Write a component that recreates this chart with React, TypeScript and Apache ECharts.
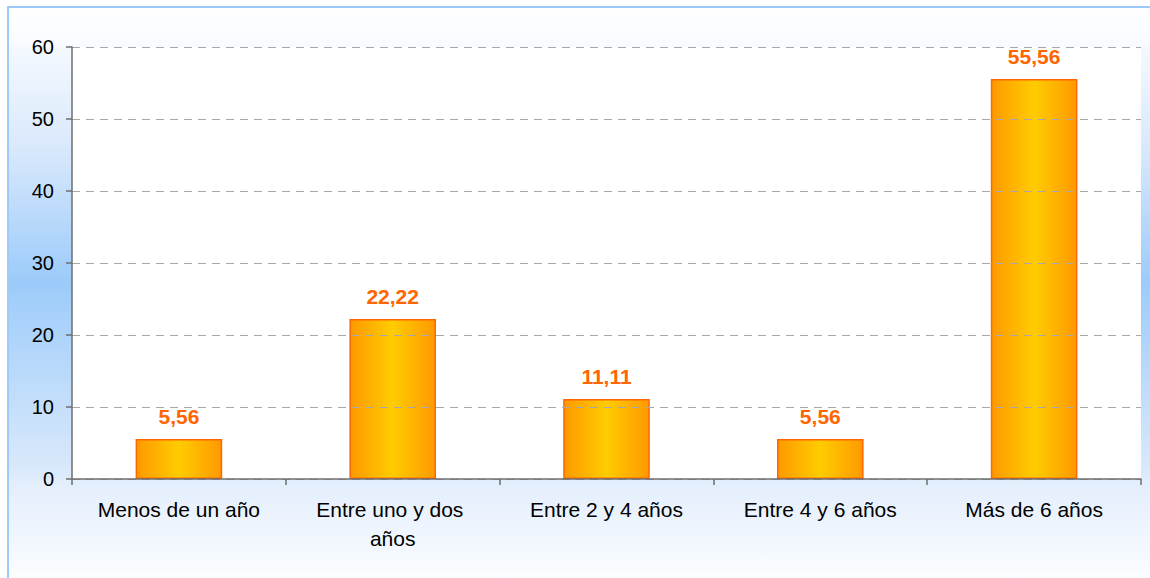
import React, { useEffect, useRef } from "react";
import * as echarts from "echarts";

const categories = [
  "Menos de un año",
  "Entre uno y dos años",
  "Entre 2 y 4 años",
  "Entre 4 y 6 años",
  "Más de 6 años",
];
const values = [5.56, 22.22, 11.11, 5.56, 55.56];
const yMin = 0;
const yMax = 60;
const yInterval = 10;

const FONT = "'Liberation Sans', Arial, sans-serif";

export default function App() {
  const ref = useRef<HTMLDivElement>(null);

  useEffect(() => {
    if (!ref.current) return;
    const chart = echarts.init(ref.current, undefined, { renderer: "svg" });
    const W = 1141;
    const H = 570;
    const gridLeft = 63;
    const gridRight = 9;
    const gridTop = 39;
    const gridBottom = 99;
    chart.setOption({
      animation: false,
      backgroundColor: {
        type: "linear",
        x: 0,
        y: 0,
        x2: 0,
        y2: 1,
        colorStops: [
          { offset: 0, color: "#ffffff" },
          { offset: 0.25, color: "#d8e8fc" },
          { offset: 0.48, color: "#9ccbfa" },
          { offset: 0.78, color: "#d4e6fb" },
          { offset: 1, color: "#ffffff" },
        ],
      },
      graphic: [
        {
          type: "rect",
          z: -10,
          silent: true,
          shape: { x: 0, y: 0, width: W, height: gridTop },
          style: {
            fill: {
              type: "linear",
              x: 0,
              y: 0,
              x2: 0,
              y2: 1,
              colorStops: [
                { offset: 0, color: "#ffffff" },
                { offset: 1, color: "#f7faff" },
              ],
            },
          },
        },
        {
          type: "rect",
          z: -10,
          silent: true,
          shape: { x: 0, y: H - gridBottom, width: W, height: gridBottom },
          style: {
            fill: {
              type: "linear",
              x: 0,
              y: 0,
              x2: 0,
              y2: 1,
              colorStops: [
                { offset: 0, color: "#e2edfc" },
                { offset: 1, color: "#fbfdff" },
              ],
            },
          },
        },
      ],
      grid: {
        left: gridLeft,
        right: gridRight,
        top: gridTop,
        bottom: gridBottom,
        show: true,
        backgroundColor: "#ffffff",
        borderWidth: 0,
        containLabel: false,
      },
      xAxis: {
        type: "category",
        data: categories,
        z: 5,
        axisLine: { show: true, lineStyle: { color: "#6e6e6e", width: 1.5 } },
        axisTick: { show: true, length: 6, lineStyle: { color: "#6e6e6e", width: 1.5 } },
        axisLabel: {
          color: "#000000",
          fontFamily: FONT,
          fontSize: 21,
          lineHeight: 29,
          margin: 16,
          width: 186,
          overflow: "break",
          interval: 0,
        },
        splitLine: { show: false },
      },
      yAxis: {
        type: "value",
        min: yMin,
        max: yMax,
        interval: yInterval,
        z: 5,
        axisLine: { show: true, lineStyle: { color: "#6e6e6e", width: 1.5 } },
        axisTick: { show: true, length: 6, lineStyle: { color: "#6e6e6e", width: 1.5 } },
        axisLabel: {
          color: "#000000",
          fontFamily: FONT,
          fontSize: 20,
          margin: 18,
        },
        splitLine: {
          show: true,
          lineStyle: { color: "#a8a8a8", type: [8, 6], width: 1 },
        },
      },
      series: [
        {
          type: "bar",
          data: values,
          barWidth: "40.5%",
          itemStyle: {
            color: {
              type: "linear",
              x: 0,
              y: 0,
              x2: 1,
              y2: 0,
              colorStops: [
                { offset: 0, color: "#ff9900" },
                { offset: 0.5, color: "#ffcc00" },
                { offset: 1, color: "#ff9900" },
              ],
            },
            borderColor: "#ff6600",
            borderWidth: 1.5,
          },
          label: {
            show: true,
            position: "top",
            distance: 12,
            color: "#ff6600",
            fontFamily: FONT,
            fontSize: 21,
            fontWeight: "bold",
            formatter: (p: any) => Number(p.value).toFixed(2).replace(".", ","),
          },
        },
      ],
    });
    return () => chart.dispose();
  }, []);

  return (
    <div
      style={{
        position: "absolute",
        left: 7,
        top: 6,
        borderLeft: "2px solid #9ccbfb",
        borderTop: "2px solid #9ccbfb",
      }}
    >
      <div ref={ref} style={{ width: 1141, height: 570 }} />
    </div>
  );
}
